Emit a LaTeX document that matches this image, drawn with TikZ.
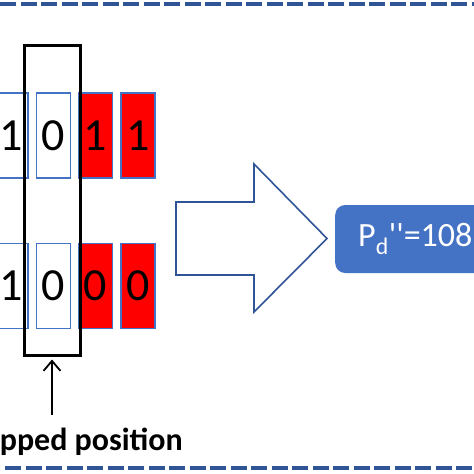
\documentclass[tikz,border=0pt]{standalone}
\usepackage{fontspec}
\setmainfont{Carlito}
\usetikzlibrary{arrows.meta,positioning,calc}
\definecolor{boxblue}{RGB}{68,114,196}
\definecolor{lineblue}{RGB}{47,85,151}
\definecolor{dropred}{RGB}{255,0,0}
\tikzset{
  bitbox/.style={draw=boxblue, line width=1.3pt, fill=white, minimum width=34pt,
                 minimum height=85pt, inner sep=0pt, font=\fontsize{46}{46}\selectfont},
  bitred/.style={bitbox, fill=dropred},
  selbox/.style={draw=black, line width=3pt, minimum width=56pt,
                 minimum height=310pt, inner sep=0pt},
  bigarr/.style={draw=lineblue, line width=1.6pt, fill=white, line join=miter},
  resbox/.style={fill=boxblue, rounded corners=10pt, minimum height=68pt,
                 inner xsep=23pt, inner ysep=0pt, text=white,
                 font=\fontsize{34}{34}\selectfont},
  sepline/.style={lineblue, line width=4pt, dash pattern=on 16pt off 4.5pt},
  uparr/.style={-{Straight Barb[length=10pt,width=17pt]}, line width=1.8pt}
}

\begin{document}
\begin{tikzpicture}[x=1pt, y=-1pt, node distance=7pt]
    \useasboundingbox (0,0) rectangle (474,474);

    % bit rows
    \node[bitbox] (a1) at (11,135.5) {1};
    \node[bitbox, right=of a1] (a2) {0};
    \node[bitred, right=of a2] (a3) {1};
    \node[bitred, right=of a3] (a4) {1};

    \node[bitbox, below=64pt of a1] (b1) {1};
    \node[bitbox, right=of b1] (b2) {0};
    \node[bitred, right=of b2] (b3) {0};
    \node[bitred, right=of b3] (b4) {0};

    % selected column
    \node[selbox] (sel) at (52,200) {};

    \node[font=\bfseries\fontsize{32}{32}\selectfont, anchor=base east, inner sep=0pt]
      (lbl) at (183,450) {Dropped position};
    \coordinate (lblup) at ($(sel.south)+(0,-58pt)$);
    \draw[uparr] (lblup) -- ([yshift=-3pt]sel.south);

    % big arrow
    \draw[bigarr] (176,202) -- (254,202) -- (254,164) -- (327,238.5)
      -- (254,312) -- (254,275) -- (176,275) -- cycle;

    \node[resbox, anchor=west] (res) at (335,239)
      {P\textsubscript{d}\textquotesingle\textquotesingle=108};

    \draw[sepline] (0,4) -- (474,4);
    \draw[sepline] (5,468) -- (474,468);
\end{tikzpicture}
\end{document}
